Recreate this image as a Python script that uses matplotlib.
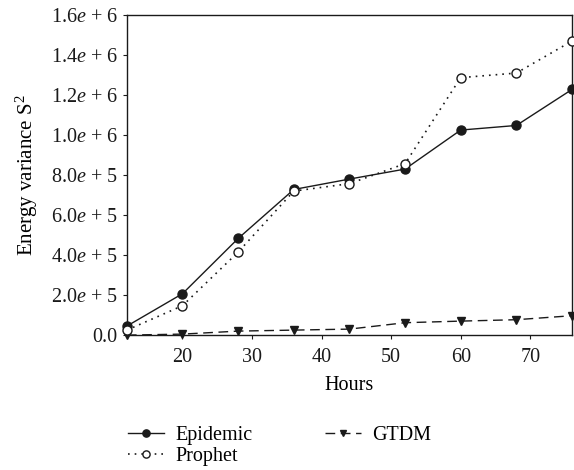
import numpy as np
import matplotlib
matplotlib.use('Agg')
import matplotlib.pyplot as plt

plt.rcParams['font.family'] = 'Liberation Serif'
plt.rcParams['mathtext.fontset'] = 'custom'
plt.rcParams['mathtext.rm'] = 'Liberation Serif'
plt.rcParams['mathtext.it'] = 'Liberation Serif:italic'

# Данные
hours = [12, 20, 28, 36, 44, 52, 60, 68, 76]
epidemic = [0.045e6, 0.207e6, 0.483e6, 0.728e6, 0.78e6, 0.83e6, 1.025e6, 1.048e6, 1.228e6]
prophet = [0.025e6, 0.147e6, 0.415e6, 0.72e6, 0.757e6, 0.857e6, 1.287e6, 1.31e6, 1.47e6]
gtdm = [0.0, 0.005e6, 0.02e6, 0.025e6, 0.03e6, 0.062e6, 0.07e6, 0.077e6, 0.097e6]

y_ticks = [0, 0.2e6, 0.4e6, 0.6e6, 0.8e6, 1.0e6, 1.2e6, 1.4e6, 1.6e6]
y_labels = ['0.0', '2.0$e$ + 5', '4.0$e$ + 5', '6.0$e$ + 5', '8.0$e$ + 5',
            '1.0$e$ + 6', '1.2$e$ + 6', '1.4$e$ + 6', '1.6$e$ + 6']
x_ticks = [20, 30, 40, 50, 60, 70]

fig = plt.figure(figsize=(5.74, 4.70), dpi=100)
ax = fig.add_axes([0.221, 0.287, 0.7755, 0.681])

ax.plot(hours, epidemic, color='#1a1a1a', lw=1.0, ls='-', marker='o',
        ms=6.5, mfc='#1a1a1a', mec='#1a1a1a', label='Epidemic', clip_on=False, zorder=3)
ax.plot(hours, prophet, color='#1a1a1a', lw=1.2, ls=(0, (1, 3)), marker='o',
        ms=6.5, mfc='white', mec='#1a1a1a', mew=1.0, label='Prophet', clip_on=False, zorder=4)
ax.plot(hours, gtdm, color='#1a1a1a', lw=1.0, ls=(0, (7, 4)), marker='v',
        ms=5.5, mfc='#1a1a1a', mec='#1a1a1a', label='GTDM', clip_on=False, zorder=3)

ax.set_xlim(12, 76)
ax.set_ylim(0, 1.6e6)
ax.set_xticks(x_ticks)
ax.set_yticks(y_ticks)
ax.set_yticklabels(y_labels)
ax.tick_params(direction='out', length=3, width=0.8, labelsize=14.5, colors='#1a1a1a')
ax.tick_params(axis='x', pad=6)
for s in ax.spines.values():
    s.set_linewidth(1.0)
    s.set_color('#1a1a1a')

ax.set_xlabel('Hours', fontsize=14.5, labelpad=7)
ax.set_ylabel('Energy variance S$^2$', fontsize=15, labelpad=8)

ax.legend(loc='upper left', bbox_to_anchor=(-0.015, -0.26), ncol=2, frameon=False,
          fontsize=14.5, handlelength=1.8, columnspacing=3.6, handletextpad=0.55,
          labelspacing=0.05, borderaxespad=0, markerscale=0.8)

fig.savefig('out.png', dpi=100)
